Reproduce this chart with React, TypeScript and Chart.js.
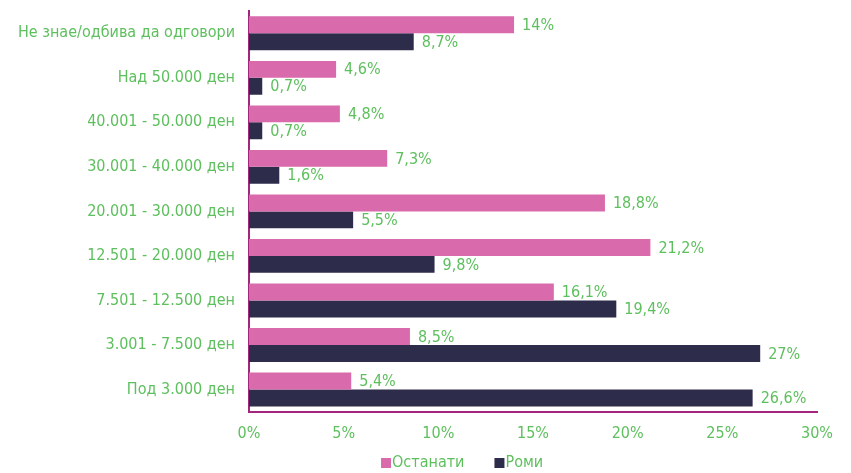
import React, { useEffect, useRef } from "react";
import { Chart, registerables } from "chart.js";

Chart.register(...registerables);

const categories = [
  "Не знае/одбива да одговори",
  "Над 50.000 ден",
  "40.001 - 50.000 ден",
  "30.001 - 40.000 ден",
  "20.001 - 30.000 ден",
  "12.501 - 20.000 ден",
  "7.501 - 12.500 ден",
  "3.001 - 7.500 ден",
  "Под 3.000 ден",
];
const ostanati = [14, 4.6, 4.8, 7.3, 18.8, 21.2, 16.1, 8.5, 5.4];
const romi = [8.7, 0.7, 0.7, 1.6, 5.5, 9.8, 19.4, 27, 26.6];
const seriesNames = ["Останати", "Роми"];

const GREEN = "#5dbf5d";
const PINK = "#d96aab";
const NAVY = "#2e2c4b";
const PURPLE = "#a2267c";
const FONT = "'DejaVu Sans Condensed', 'DejaVu Sans', sans-serif";
const FS = 16;

const fmt = (v: number) => String(v).replace(".", ",") + "%";

const labelPlugin = {
  id: "valueLabels",
  afterDatasetsDraw(chart: any) {
    const ctx = chart.ctx;
    ctx.save();
    ctx.font = `${FS}px ${FONT}`;
    ctx.fillStyle = GREEN;
    ctx.textAlign = "left";
    ctx.textBaseline = "middle";
    chart.data.datasets.forEach((ds: any, di: number) => {
      const meta = chart.getDatasetMeta(di);
      meta.data.forEach((bar: any, i: number) => {
        ctx.fillText(fmt(ds.data[i]), bar.x + 8, bar.y + 1);
      });
    });
    ctx.restore();
  },
};

const legendPlugin = {
  id: "customLegend",
  afterDraw(chart: any) {
    const ctx = chart.ctx;
    ctx.save();
    ctx.font = `${FS}px ${FONT}`;
    ctx.textBaseline = "middle";
    ctx.textAlign = "left";
    const items = chart.data.datasets.map((ds: any) => ({
      text: ds.label,
      color: ds.backgroundColor,
      w: 10 + 1 + ctx.measureText(ds.label).width,
    }));
    const gap = 30;
    const total = items.reduce((a: number, it: any) => a + it.w, 0) + gap * (items.length - 1);
    let x = chart.width * 0.543 - total / 2;
    const y = chart.height - 10;
    items.forEach((it: any) => {
      ctx.fillStyle = it.color;
      ctx.fillRect(x, y - 5, 10, 10);
      ctx.fillStyle = GREEN;
      ctx.fillText(it.text, x + 11, y);
      x += it.w + gap;
    });
    ctx.restore();
  },
};

export default function App() {
  const ref = useRef<HTMLCanvasElement>(null);
  useEffect(() => {
    const chart = new Chart(ref.current!, {
      type: "bar",
      data: {
        labels: categories,
        datasets: [
          { label: seriesNames[0], data: ostanati, backgroundColor: PINK },
          { label: seriesNames[1], data: romi, backgroundColor: NAVY },
        ],
      },
      options: {
        indexAxis: "y",
        animation: false,
        responsive: false,
        maintainAspectRatio: false,
        layout: { padding: { top: 11, right: 34, bottom: 26, left: 0 } },
        datasets: { bar: { categoryPercentage: 0.76, barPercentage: 1.0 } },
        scales: {
          x: {
            min: 0,
            max: 30,
            ticks: {
              stepSize: 5,
              color: GREEN,
              font: { family: FONT, size: FS },
              padding: 4,
              callback: (v: any) => v + "%",
            },
            grid: { display: false },
            border: { display: true, color: PURPLE, width: 2 },
          },
          y: {
            ticks: { color: GREEN, font: { family: FONT, size: FS }, padding: 6 },
            grid: { display: false },
            border: { display: true, color: PURPLE, width: 2 },
            afterFit: (s: any) => {
              s.width = 249;
              s.paddingTop = 0;
              s.paddingBottom = 0;
            },
          },
        },
        plugins: {
          legend: { display: false },
          tooltip: { enabled: false },
        },
      },
      plugins: [labelPlugin, legendPlugin],
    });
    return () => chart.destroy();
  }, []);
  return (
    <div style={{ position: "fixed", left: 0, top: 0, width: 851, height: 473, background: "#fff" }}>
      <canvas ref={ref} width={851} height={473} />
    </div>
  );
}
